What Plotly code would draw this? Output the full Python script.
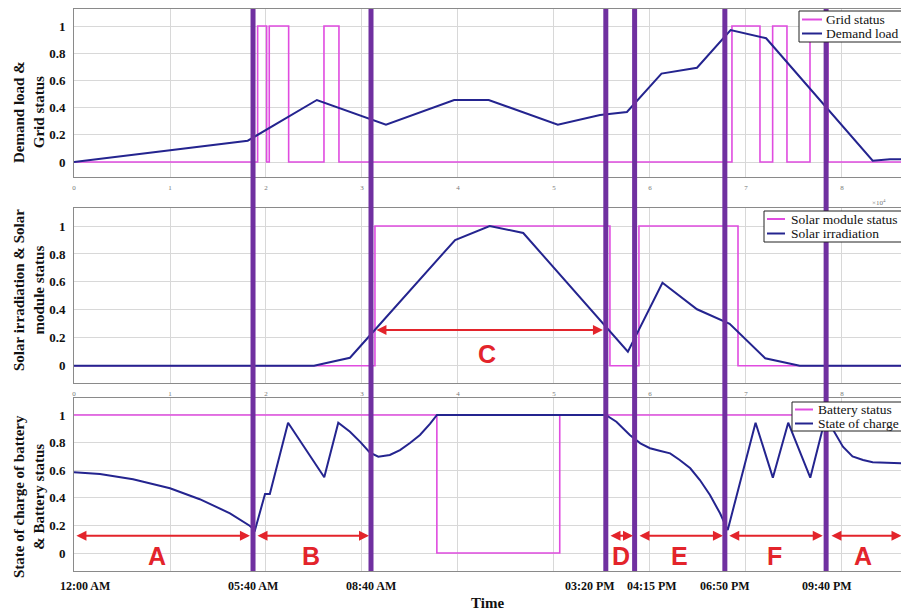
import plotly.graph_objects as go

# ---------------- data (x in units of 10^4 s) ----------------
demand_x = [0, 1.81, 2.53, 3.25, 3.96, 4.32, 5.04, 5.48, 5.76, 6.12, 6.49, 6.84, 7.21, 8.32, 8.5, 8.62]
demand_y = [0, 0.157, 0.456, 0.274, 0.456, 0.456, 0.274, 0.346, 0.368, 0.65, 0.693, 0.97, 0.91, 0.01, 0.02, 0.02]

grid_x = [0, 1.913, 2.007, 2.034, 2.236, 2.604, 2.760, 6.854, 7.146, 7.278, 7.427, 7.667, 7.854, 8.62]
grid_y = [0, 1, 0, 1, 0, 1, 0, 1, 0, 1, 0, 1, 0, 0]

solar_x = [0, 2.5, 2.875, 3.97, 4.33, 4.68, 5.77, 6.13, 6.49, 6.83, 7.2, 7.56, 8.62]
solar_y = [0, 0, 0.057, 0.9, 1.0, 0.95, 0.1, 0.594, 0.404, 0.3, 0.053, 0, 0]

module_x = [0, 3.135, 5.583, 5.885, 6.917, 8.62]
module_y = [0, 1, 0, 1, 0, 0]

battery_x = [0, 3.78, 5.06, 8.62]
battery_y = [1, 0, 1, 1]

soc_x = [0, 0.27, 0.615, 1.0, 1.31, 1.625, 1.83, 1.885, 1.99, 2.04, 2.23, 2.607, 2.753,
         2.875, 2.979, 3.083, 3.17, 3.29, 3.396, 3.5, 3.604, 3.708, 3.781, 5.54, 5.65,
         5.79, 5.9, 6.0, 6.1, 6.21, 6.31, 6.42, 6.52, 6.625, 6.73, 6.81, 7.10, 7.28,
         7.44, 7.67, 7.83, 7.91, 8.01, 8.11, 8.22, 8.32, 8.62]
soc_y = [0.585, 0.572, 0.534, 0.469, 0.39, 0.288, 0.198, 0.165, 0.428, 0.428, 0.944, 0.549, 0.944,
         0.879, 0.807, 0.727, 0.698, 0.71, 0.746, 0.797, 0.855, 0.935, 1.0, 1.0, 0.951,
         0.855, 0.795, 0.759, 0.741, 0.722, 0.674, 0.614, 0.529, 0.42, 0.288, 0.167, 0.944, 0.546,
         0.944, 0.546, 0.985, 0.89, 0.77, 0.70, 0.674, 0.657, 0.65]

# boundaries of the operating modes
mode_lines = [1.865, 3.094, 5.54, 5.84, 6.78, 7.835]

time_labels = ["12:00 AM", "05:40 AM", "08:40 AM", "03:20 PM", "04:15 PM", "06:50 PM", "09:40 PM"]
time_pos = [0.115, 1.865, 3.094, 5.372, 6.018, 6.781, 7.84]

# mode arrows (bottom panel) and labels
mode_names = ["A", "B", "D", "E", "F", "A"]
mode_start = [0.01, 1.896, 5.573, 5.875, 6.81, 7.875]
mode_end = [1.833, 3.073, 5.823, 6.76, 7.80, 8.62]
mode_label_x = [0.865, 2.469, 5.698, 6.3125, 7.302, 8.219]

c_name = "C"
c_start, c_end, c_label_x = 3.135, 5.51, 4.30

y_ticks = [0, 0.2, 0.4, 0.6, 0.8, 1]
y_ticktext = ["0", "0.2", "0.4", "0.6", "0.8", "1"]
x_ticks = [0, 1, 2, 3, 4, 5, 6, 7, 8]

legend_names = [["Grid status", "Demand load"],
                ["Solar module status", "Solar irradiation"],
                ["Battery status", "State of charge"]]

# ---------------- styles ----------------
MAG = "#E04CE0"
NAVY = "#24248F"
PURPLE = "#7030A0"
RED = "#E3242B"
SERIF = "Liberation Serif"

fig = go.Figure()
fig.add_trace(go.Scatter(x=grid_x, y=grid_y, mode="lines", line=dict(color=MAG, width=1.6, shape="hv"),
                         name=legend_names[0][0], xaxis="x", yaxis="y"))
fig.add_trace(go.Scatter(x=demand_x, y=demand_y, mode="lines", line=dict(color=NAVY, width=2),
                         name=legend_names[0][1], xaxis="x", yaxis="y"))
fig.add_trace(go.Scatter(x=module_x, y=module_y, mode="lines", line=dict(color=MAG, width=1.6, shape="hv"),
                         name=legend_names[1][0], xaxis="x2", yaxis="y2"))
fig.add_trace(go.Scatter(x=solar_x, y=solar_y, mode="lines", line=dict(color=NAVY, width=2),
                         name=legend_names[1][1], xaxis="x2", yaxis="y2"))
fig.add_trace(go.Scatter(x=battery_x, y=battery_y, mode="lines", line=dict(color=MAG, width=1.6, shape="hv"),
                         name=legend_names[2][0], xaxis="x3", yaxis="y3"))
fig.add_trace(go.Scatter(x=soc_x, y=soc_y, mode="lines", line=dict(color=NAVY, width=2),
                         name=legend_names[2][1], xaxis="x3", yaxis="y3"))

xr = [0, 8.615]
common_x = dict(range=xr, tickvals=x_ticks, showgrid=True, gridcolor="#D8D8D8", gridwidth=1,
                showline=True, mirror=True, linecolor="#8A8A8A", linewidth=1, zeroline=False,
                ticks="", tickfont=dict(family=SERIF, size=7, color="#777"), ticklabelstandoff=4)
common_y = dict(tickvals=y_ticks, ticktext=y_ticktext, showgrid=True, gridcolor="#D8D8D8", gridwidth=1,
                showline=True, mirror=True, linecolor="#8A8A8A", linewidth=1, zeroline=False,
                ticks="", tickfont=dict(family=SERIF, size=13, color="#111", weight="bold"),
                ticklabelstandoff=5)

H = 562.0
def pd(py):
    return (571 - py) / H
def px(x):
    return (x - 74) / 827.0

fig.update_layout(
    width=901, height=612, margin=dict(l=74, r=0, t=9, b=41),
    paper_bgcolor="white", plot_bgcolor="white", showlegend=False,
    xaxis=dict(common_x, domain=[0, 1], anchor="y"),
    yaxis=dict(common_y, domain=[pd(177), pd(9)], range=[-0.11, 1.125], anchor="x"),
    xaxis2=dict(common_x, domain=[0, 1], anchor="y2"),
    yaxis2=dict(common_y, domain=[pd(383), pd(208)], range=[-0.124, 1.129], anchor="x2"),
    xaxis3=dict(common_x, domain=[0, 1], anchor="y3", showticklabels=False),
    yaxis3=dict(common_y, domain=[0, pd(398)], range=[-0.13, 1.123], anchor="x3"),
)

# mode boundary lines spanning all panels
for xv in mode_lines:
    fig.add_shape(type="line", xref="x3", yref="paper", x0=xv, x1=xv, y0=0, y1=1,
                  line=dict(color=PURPLE, width=5), layer="above")

# legends (box, line samples, labels), one per panel
legend_boxes = [(799, 11, 42, 802, 822, 825, 19.5, 33.5),
                (764, 211, 242, 767, 785, 790, 219, 233.5),
                (792, 402, 431, 795, 813, 817, 409.5, 423.5)]
for names, (bx, by0, by1, lx0, lx1, tx, r1, r2) in zip(legend_names, legend_boxes):
    fig.add_shape(type="rect", xref="paper", yref="paper", x0=px(bx), x1=px(905), y0=pd(by1), y1=pd(by0),
                  line=dict(color="#222", width=1), fillcolor="white", layer="above")
    for nm, ry, col in zip(names, (r1, r2), (MAG, NAVY)):
        fig.add_shape(type="line", xref="paper", yref="paper", x0=px(lx0), x1=px(lx1), y0=pd(ry), y1=pd(ry),
                      line=dict(color=col, width=2), layer="above")
        fig.add_annotation(xref="paper", yref="paper", x=px(tx), y=pd(ry), text=nm, showarrow=False,
                           xanchor="left", yanchor="middle", borderpad=0,
                           font=dict(family=SERIF, size=13.5, color="#111"))

# double-headed arrows and mode letters
for nm, s, e, lx in zip(mode_names, mode_start, mode_end, mode_label_x):
    fig.add_annotation(xref="x3", yref="y3", axref="x3", ayref="y3", x=e, y=0.125, ax=s, ay=0.125,
                       text="", showarrow=True, arrowhead=2, arrowside="end+start", arrowsize=1,
                       arrowwidth=2, arrowcolor=RED, standoff=0, startstandoff=0)
    fig.add_annotation(xref="x3", yref="y3", x=lx, y=-0.022, text=nm, showarrow=False,
                       font=dict(family="Liberation Sans", size=25, color=RED, weight="bold"))
fig.add_annotation(xref="x2", yref="y2", axref="x2", ayref="y2", x=c_end, y=0.256, ax=c_start, ay=0.256,
                   text="", showarrow=True, arrowhead=2, arrowside="end+start", arrowsize=1,
                   arrowwidth=2, arrowcolor=RED, standoff=0, startstandoff=0)
fig.add_annotation(xref="x2", yref="y2", x=c_label_x, y=0.084, text=c_name, showarrow=False,
                   font=dict(family="Liberation Sans", size=25, color=RED, weight="bold"))

# time labels under the bottom panel
for lab, xv in zip(time_labels, time_pos):
    fig.add_annotation(xref="x3", yref="paper", x=xv, y=pd(586), text=lab, showarrow=False,
                       yanchor="middle", font=dict(family=SERIF, size=12, color="#111", weight="bold"))
fig.add_annotation(xref="paper", yref="paper", x=px(487), y=pd(603), text="Time", showarrow=False,
                   yanchor="middle", font=dict(family=SERIF, size=15, color="#111", weight="bold"))

# exponent label
fig.add_annotation(xref="paper", yref="paper", x=px(888), y=pd(196), text="×10<sup>4</sup>",
                   showarrow=False, font=dict(family=SERIF, size=7, color="#777"))

# y axis titles
titles = [("Demand load &<br>Grid status", 112),
          ("Solar irradiation & Solar<br>module status", 290),
          ("State of charge of battery<br>& Battery status", 497)]
for t, cy in titles:
    fig.add_annotation(xref="paper", yref="paper", x=px(29), y=pd(cy), text=t, showarrow=False,
                       textangle=-90, xanchor="center", yanchor="middle",
                       font=dict(family=SERIF, size=15, color="#111", weight="bold"))

fig.write_html("out.html", config={"displayModeBar": False},
               post_script="document.body.style.margin='0px';")
